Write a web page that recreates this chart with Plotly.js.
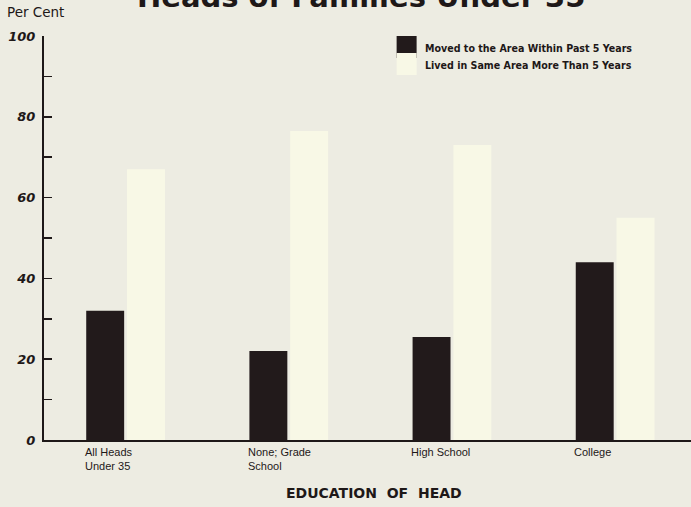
<!DOCTYPE html>
<html>
<head>
<meta charset="utf-8">
<script src="https://cdn.plot.ly/plotly-3.0.1.min.js"></script>
<style>
  html, body { margin: 0; padding: 0; background: #edece2; }
  #chart { width: 691px; height: 507px; }
</style>
</head>
<body>
<div id="chart"></div>
<script>
// Education groups (x categories) and the two-line labels printed under them
const categories = ["All Heads Under 35", "None; Grade School", "High School", "College"];
const categoryLabels = ["All Heads<br>Under 35", "None; Grade<br>School", "High School", "College"];

// Per cent of heads of families in each group
const seriesNames = ["Moved to the Area Within Past 5 Years", "Lived in Same Area More Than 5 Years"];
const movedRecently = [32, 22, 25.5, 44];
const livedLonger = [67, 76.5, 73, 55];

const yTickValues = [0, 20, 40, 60, 80, 100];

const darkColor = "#221a1b";
const lightColor = "#f8f8e6";
const inkColor = "#1e1818";
const bg = "#edece2";

const traces = [
  { type: "bar", name: seriesNames[0], x: categories, y: movedRecently,
    marker: { color: darkColor, line: { width: 0 } }, showlegend: false, hoverinfo: "skip" },
  { type: "bar", name: seriesNames[1], x: categories, y: livedLonger,
    marker: { color: lightColor, line: { width: 0 } }, showlegend: false, hoverinfo: "skip" }
];

// Category labels: left-aligned with the left edge of each pair of bars
const annotations = categories.map((c, i) => ({
  xref: "x", yref: "paper", x: i - 0.25, y: 0, xanchor: "left", yanchor: "top",
  xshift: -2, yshift: -4, align: "left", showarrow: false, text: categoryLabels[i],
  font: { family: "Liberation Sans, Arial, sans-serif", size: 11, color: inkColor }
}));

annotations.push(
  { xref: "paper", yref: "paper", x: 0.5, y: 0, xanchor: "center", yanchor: "top", yshift: -43,
    xshift: 6, showarrow: false, text: "EDUCATION  OF  HEAD",
    font: { family: "DejaVu Sans, sans-serif", size: 14, weight: 600, color: inkColor } },
  { xref: "paper", yref: "paper", x: 0, y: 1, xanchor: "left", yanchor: "bottom", xshift: -39, yshift: 14,
    showarrow: false, text: "Per Cent",
    font: { family: "DejaVu Sans, sans-serif", size: 13.5, color: inkColor } },
  { xref: "paper", yref: "paper", x: 0.49, y: 1, xanchor: "center", yanchor: "bottom", yshift: 20,
    showarrow: false, text: "Heads of Families Under 35",
    font: { family: "DejaVu Sans, sans-serif", size: 29, weight: 700, color: inkColor } }
);

// Key: swatch plus series name for each series
const keyColors = [darkColor, lightColor];
const shapes = [];
seriesNames.forEach((name, i) => {
  const offset = i * 17;
  shapes.push({ type: "rect", xref: "paper", yref: "paper", xsizemode: "pixel", ysizemode: "pixel",
    xanchor: 0.545, yanchor: 1, x0: 0, x1: 20, y0: -offset, y1: -offset - 22,
    fillcolor: keyColors[i], line: { width: 0 } });
  annotations.push({ xref: "paper", yref: "paper", x: 0.545, y: 1, xanchor: "left", yanchor: "middle",
    xshift: 26, yshift: -(offset + 12), showarrow: false, text: name,
    font: { family: "DejaVu Sans Condensed, Liberation Sans Narrow, sans-serif", size: 10.6, weight: 700, color: inkColor } });
});

const layout = {
  width: 691, height: 507,
  paper_bgcolor: bg, plot_bgcolor: bg,
  margin: { l: 44, r: 0, t: 36, b: 67 },
  barmode: "group", bargap: 0.5, bargroupgap: 0.07,
  showlegend: false,
  xaxis: {
    type: "category", range: [-0.5, 3.465], showticklabels: false, ticks: "",
    showline: true, linecolor: inkColor, linewidth: 2, showgrid: false, zeroline: false, fixedrange: true
  },
  yaxis: {
    range: [0, 100], tickvals: yTickValues, ticktext: yTickValues.map(String),
    ticks: "inside", ticklen: 8, tickwidth: 1.5, tickcolor: inkColor,
    minor: { dtick: 10, tick0: 0, ticks: "inside", ticklen: 8, tickwidth: 1.5, tickcolor: inkColor, showgrid: false },
    showline: true, linecolor: inkColor, linewidth: 2, showgrid: false, zeroline: false,
    ticklabelstandoff: 4,
    tickfont: { family: "DejaVu Sans, sans-serif", size: 13, style: "italic", weight: 600, color: inkColor },
    fixedrange: true
  },
  annotations: annotations,
  shapes: shapes
};

Plotly.newPlot("chart", traces, layout, { displayModeBar: false, staticPlot: true });
</script>
</body>
</html>
